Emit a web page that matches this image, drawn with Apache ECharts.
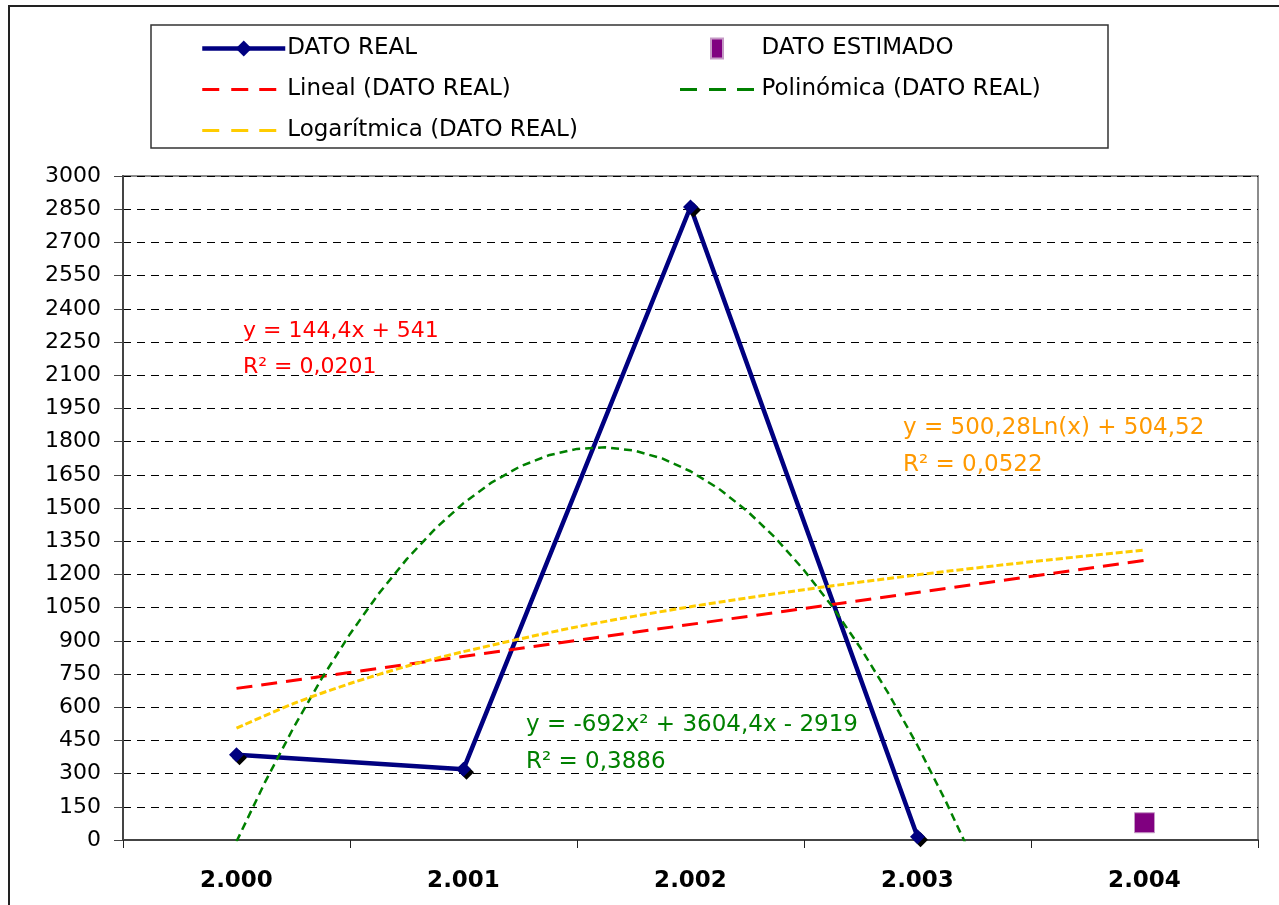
<!DOCTYPE html>
<html>
<head>
<meta charset="utf-8">
<script src="https://cdn.jsdelivr.net/npm/echarts@6/dist/echarts.min.js"></script>
<style>
html,body{margin:0;padding:0;background:#fff;}
#chart{width:1279px;height:905px;}
</style>
</head>
<body>
<div id="chart"></div>
<script>
// ---- data ----
var categories = ['2.000', '2.001', '2.002', '2.003', '2.004'];
var realValues = [385, 320, 2860, 15, null];
var estimatedValues = [null, null, null, null, 78];

// trend lines (x = period 1..5)
var linX = [1, 5];
var linY = [685, 1263];
var logX = [1, 1.25, 1.5, 1.75, 2, 2.5, 3, 3.5, 4, 4.5, 5];
var logY = [505, 616, 707, 785, 851, 963, 1054, 1131, 1198, 1257, 1310];
var polyX = [1, 1.125, 1.25, 1.375, 1.5, 1.625, 1.75, 1.875, 2, 2.125, 2.25, 2.375, 2.5, 2.625,
             2.75, 2.875, 3, 3.125, 3.25, 3.375, 3.5, 3.625, 3.75, 3.875, 4, 4.125, 4.25];
var polyY = [-7, 260, 505, 729, 931, 1111, 1269, 1406, 1522, 1616, 1688, 1738, 1767, 1774,
             1760, 1724, 1666, 1587, 1486, 1364, 1219, 1054, 866, 657, 427, 174, -100];

var yMin = 0, yMax = 3000, yStep = 150;

function pairs(xs, ys) { return xs.map(function (x, i) { return [x, ys[i]]; }); }

var FONT = 'DejaVu Sans';
// dashed legend icons (three dashes), the M83,0 widens the box so dashes start at the left
var DASH_ICON_L = 'path://M83,0M0,20M0,8.5H17V11.5H0ZM29,8.5H46V11.5H29ZM57,8.5H74V11.5H57Z';
var DASH_ICON_R = 'path://M0,0M0,20M0,8.5H17V11.5H0ZM29,8.5H46V11.5H29ZM57,8.5H74V11.5H57Z';

var chart = echarts.init(document.getElementById('chart'), null, {renderer: 'canvas'});

var option = {
  animation: false,
  backgroundColor: '#fff',
  textStyle: {fontFamily: FONT},
  grid: {left: 123, right: 21, top: 176, bottom: 65, show: true, borderColor: '#8c8c8c', borderWidth: 2, containLabel: false},
  legend: [
    {
      left: 195, top: 32, orient: 'vertical',
      itemWidth: 83, itemHeight: 20, itemGap: 18,
      data: [
        'DATO REAL',
        {name: 'Lineal (DATO REAL)', icon: DASH_ICON_L},
        {name: 'Logarítmica (DATO REAL)', icon: DASH_ICON_L}
      ],
      lineStyle: {width: 4.5},
      textStyle: {fontFamily: FONT, fontSize: 23, color: '#000', padding: [0, 0, 0, -3]},
      selectedMode: false
    },
    {
      left: 675, top: 32, orient: 'vertical',
      itemWidth: 75, itemHeight: 20, itemGap: 18,
      data: [
        {name: 'DATO ESTIMADO', icon: 'path://M0,0H12V20H0Z'},
        {name: 'Polinómica (DATO REAL)', icon: DASH_ICON_R}
      ],
      textStyle: {fontFamily: FONT, fontSize: 23, color: '#000', padding: [0, 0, 0, 2]},
      selectedMode: false
    }
  ],
  xAxis: [
    {
      type: 'category', data: categories, boundaryGap: true, position: 'bottom',
      axisLine: {show: true, lineStyle: {color: '#444', width: 2}},
      axisTick: {show: true, length: 8, interval: 0, lineStyle: {color: '#222', width: 1}},
      axisLabel: {fontFamily: FONT, fontSize: 23, fontWeight: 'bold', color: '#000', margin: 30, interval: 0},
      splitLine: {show: false}
    },
    {
      type: 'value', min: 0.5, max: 5.5, show: false, position: 'bottom'
    }
  ],
  yAxis: {
    type: 'value', min: yMin, max: yMax, interval: yStep,
    axisLine: {show: true, lineStyle: {color: '#444', width: 2}},
    axisTick: {show: true, length: 9, lineStyle: {color: '#444', width: 1}},
    axisLabel: {fontFamily: FONT, fontSize: 22, color: '#000', margin: 22,
                formatter: function (v) { return String(v); }},
    splitLine: {show: true, lineStyle: {color: '#000', width: 1, type: [8, 6]}}
  },
  series: [
    {
      name: 'DATO REAL', type: 'line', xAxisIndex: 0, data: realValues,
      symbol: 'diamond', symbolSize: 15, showSymbol: true,
      lineStyle: {color: '#000080', width: 4.5},
      itemStyle: {color: '#000080', shadowColor: '#000', shadowOffsetX: 3, shadowOffsetY: 3, shadowBlur: 0},
      z: 3
    },
    {
      name: 'DATO ESTIMADO', type: 'scatter', xAxisIndex: 0, data: estimatedValues,
      symbol: 'rect', symbolSize: 20,
      itemStyle: {color: '#800080', opacity: 1, borderColor: '#c59ac5', borderWidth: 1},
      z: 3
    },
    {
      name: 'Lineal (DATO REAL)', type: 'line', xAxisIndex: 1, data: pairs(linX, linY),
      symbol: 'none', showSymbol: false,
      lineStyle: {color: '#ff0000', width: 3, type: [16, 9]},
      itemStyle: {color: '#ff0000'},
      z: 4
    },
    {
      name: 'Polinómica (DATO REAL)', type: 'line', xAxisIndex: 1, data: pairs(polyX, polyY),
      symbol: 'none', showSymbol: false, smooth: false,
      lineStyle: {color: '#008000', width: 2.5, type: [8, 5]},
      itemStyle: {color: '#008000'},
      z: 4
    },
    {
      name: 'Logarítmica (DATO REAL)', type: 'line', xAxisIndex: 1, data: pairs(logX, logY),
      symbol: 'none', showSymbol: false, smooth: 0.3,
      lineStyle: {color: '#ffcc00', width: 3, type: [7, 3]},
      itemStyle: {color: '#ffcc00'},
      z: 4
    }
  ],
  graphic: [
    {type: 'rect', x: 9, y: 6, shape: {x: 0, y: 0, width: 1290, height: 920},
     style: {fill: 'none', stroke: '#222', lineWidth: 2}, silent: true, z: 0},
    {type: 'rect', x: 151, y: 25, shape: {x: 0, y: 0, width: 957, height: 123},
     style: {fill: 'none', stroke: '#333', lineWidth: 1.5}, silent: true, z: 0},
    {type: 'text', x: 243, y: 320, style: {text: 'y = 144,4x + 541', font: '22px "DejaVu Sans"', fill: '#ff0000'}, z: 10},
    {type: 'text', x: 243, y: 356, style: {text: 'R² = 0,0201', font: '22px "DejaVu Sans"', fill: '#ff0000'}, z: 10},
    {type: 'text', x: 903, y: 417, style: {text: 'y = 500,28Ln(x) + 504,52', font: '23px "DejaVu Sans"', fill: '#ff9900'}, z: 10},
    {type: 'text', x: 903, y: 454, style: {text: 'R² = 0,0522', font: '23px "DejaVu Sans"', fill: '#ff9900'}, z: 10},
    {type: 'text', x: 526, y: 714, style: {text: 'y = -692x² + 3604,4x - 2919', font: '23px "DejaVu Sans"', fill: '#008000'}, z: 10},
    {type: 'text', x: 526, y: 751, style: {text: 'R² = 0,3886', font: '23px "DejaVu Sans"', fill: '#008000'}, z: 10}
  ]
};
chart.setOption(option);
</script>
</body>
</html>
